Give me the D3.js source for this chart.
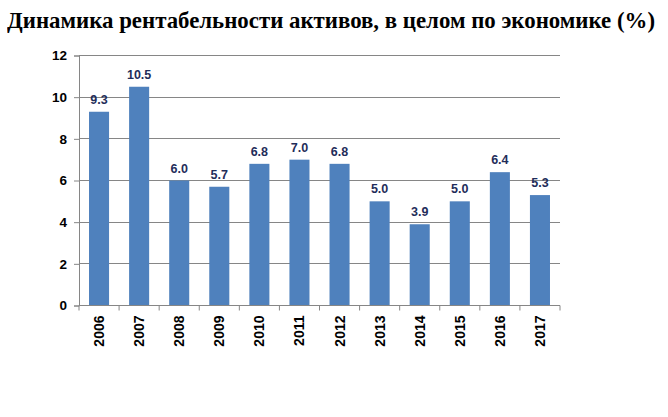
<!DOCTYPE html>
<html><head><meta charset="utf-8">
<script src="https://cdn.jsdelivr.net/npm/d3@7"></script>
<style>body{margin:0;background:#fff;position:relative;width:668px;height:417px;overflow:hidden;} svg{display:block;position:absolute;left:0;top:0;}
#ttl{position:absolute;left:7px;top:7px;font:bold 23px "Liberation Serif","Times New Roman",serif;white-space:nowrap;transform-origin:0 0;color:#000;line-height:27px;}
.sans{font-family:"Liberation Sans",Arial,sans-serif;font-weight:bold;}
</style>
</head><body>
<script>
const years = ["2006","2007","2008","2009","2010","2011","2012","2013","2014","2015","2016","2017"];
const values = [9.3,10.5,6.0,5.7,6.8,7.0,6.8,5.0,3.9,5.0,6.4,5.3];
const yTicks = [0,2,4,6,8,10,12];
const title = "Динамика рентабельности активов, в целом по экономике (%)";

(function(){
const W = 668, H = 417;
const svg = d3.select("body").append("svg").attr("width", W).attr("height", H);
const mLeft = 79, mRight = 560, mTop = 55.5, mBottom = 305.5;

const x = d3.scaleBand().domain(years).range([mLeft, mRight]).paddingInner(0.5).paddingOuter(0.25);
const y = d3.scaleLinear().domain([0,12]).range([mBottom, mTop]);

const t = d3.select("body").append("div").attr("id","ttl").text(title);
const tw = t.node().getBoundingClientRect().width;
t.style("transform", `scaleX(${648 / tw})`);

svg.append("g").selectAll("line").data(yTicks.filter(d => d > 0)).join("line")
  .attr("x1", mLeft).attr("x2", mRight).attr("y1", d => y(d)).attr("y2", d => y(d))
  .attr("stroke", "#868686").attr("stroke-width", 1).attr("shape-rendering", "crispEdges");

svg.append("g").selectAll("rect").data(values).join("rect")
  .attr("x", (d,i) => x(years[i])).attr("width", x.bandwidth())
  .attr("y", d => y(d)).attr("height", d => y(0) - y(d))
  .attr("fill", "#4f81bd");

svg.append("g").selectAll("text").data(values).join("text").attr("class","sans")
  .attr("x", (d,i) => x(years[i]) + x.bandwidth()/2).attr("y", d => y(d) - 8)
  .attr("text-anchor", "middle")
  .attr("font-size", 12.5).attr("fill", "#1f2d5a")
  .text(d => d.toFixed(1));

const yAxis = d3.axisLeft(y).tickValues(yTicks).tickSize(5).tickPadding(7).tickFormat(d3.format("d"));
const gy = svg.append("g").attr("transform", `translate(${mLeft},0)`).call(yAxis);
gy.select(".domain").attr("stroke", "#868686");
gy.selectAll(".tick line").attr("stroke", "#868686");
gy.selectAll(".tick text").attr("class","sans").attr("font-size", 13.5).attr("fill", "#000");

const gx = svg.append("g").attr("transform", `translate(0,${mBottom})`);
gx.append("line").attr("x1", mLeft).attr("x2", mRight).attr("y1", 0).attr("y2", 0).attr("stroke", "#868686");
const bounds = d3.range(years.length + 1).map(i => mLeft + i * (mRight - mLeft) / years.length);
gx.selectAll("line.tk").data(bounds).join("line").attr("class","tk")
  .attr("x1", d => d).attr("x2", d => d).attr("y1", 0).attr("y2", 5).attr("stroke", "#868686");
gx.selectAll("text").data(years).join("text").attr("class","sans")
  .attr("transform", d => `translate(${x(d) + x.bandwidth()/2 + 5},10) rotate(-90)`)
  .attr("text-anchor", "end")
  .attr("font-size", 14).attr("fill", "#000")
  .text(d => d);
})();
</script>
</body></html>
